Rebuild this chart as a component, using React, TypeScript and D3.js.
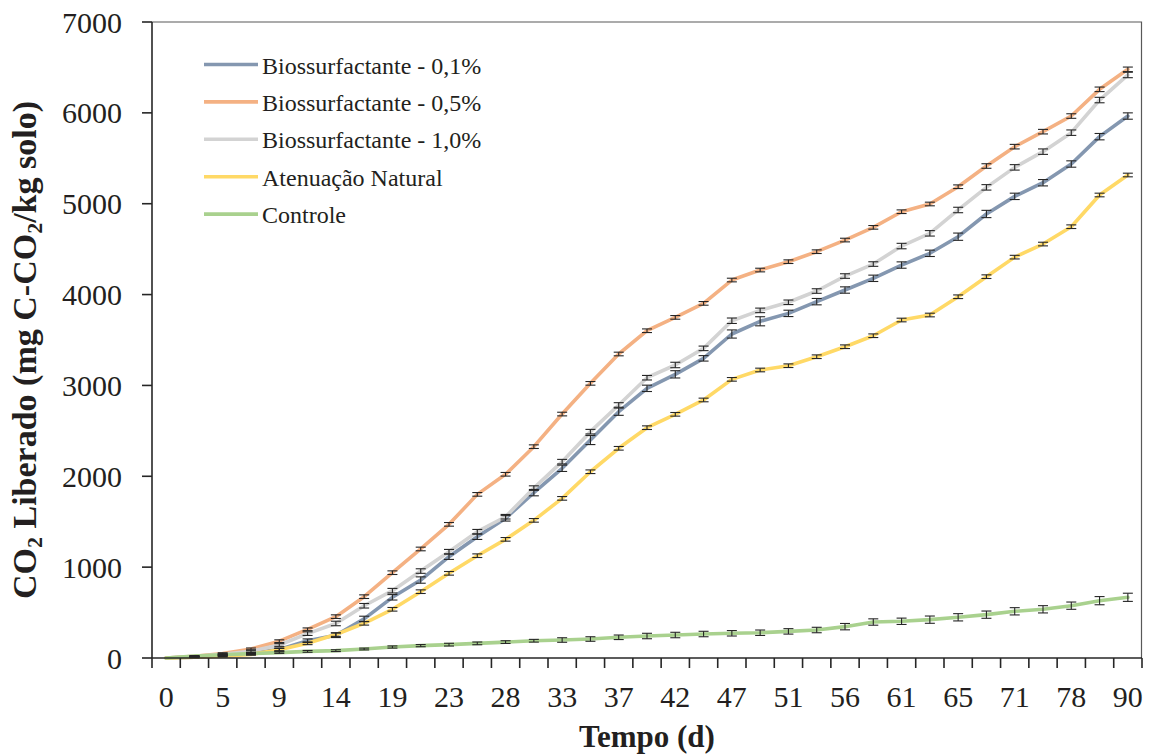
import React from 'react';
import * as d3 from 'd3';

// x axis: one category per sampling, only every other one is labelled
const tickLabels = ['0', '5', '9', '14', '19', '23', '28', '33', '37', '42', '47', '51', '56', '61', '65', '71', '78', '90'];
const nSamples = 35;

const bio01 = [0, 10, 25, 50, 95, 190, 250, 430, 668, 858, 1115, 1335, 1537, 1820, 2088, 2399, 2711, 2968, 3122, 3298, 3566, 3706, 3793, 3922, 4050, 4179, 4325, 4454, 4637, 4887, 5081, 5231, 5437, 5738, 5965];
const bio05 = [0, 20, 50, 100, 185, 316, 455, 675, 939, 1200, 1471, 1801, 2022, 2326, 2685, 3023, 3346, 3602, 3749, 3903, 4160, 4270, 4362, 4472, 4600, 4740, 4912, 4997, 5187, 5415, 5628, 5793, 5965, 6259, 6479];
const bio10 = [0, 15, 40, 75, 143, 268, 380, 575, 741, 957, 1170, 1390, 1555, 1870, 2161, 2491, 2785, 3085, 3225, 3408, 3712, 3826, 3915, 4039, 4204, 4336, 4534, 4674, 4931, 5180, 5400, 5573, 5782, 6141, 6417];
const atenuacao = [0, 8, 20, 40, 90, 162, 258, 382, 536, 730, 932, 1126, 1306, 1515, 1757, 2050, 2308, 2535, 2682, 2840, 3067, 3170, 3217, 3316, 3426, 3547, 3720, 3775, 3976, 4197, 4412, 4556, 4747, 5096, 5316];
const controle = [0, 22, 36, 48, 59, 73, 81, 99, 121, 136, 147, 161, 175, 190, 198, 209, 228, 242, 253, 264, 272, 278, 293, 308, 345, 396, 404, 422, 448, 477, 514, 536, 576, 631, 668];

// error bar half-widths
const bio01Err = [0, 5, 8, 10, 15, 20, 25, 30, 30, 35, 30, 30, 30, 35, 35, 50, 40, 35, 40, 30, 45, 50, 35, 35, 35, 35, 35, 35, 40, 40, 35, 35, 35, 35, 35];
const bio05Err = [0, 5, 8, 10, 15, 15, 20, 20, 20, 20, 20, 20, 20, 20, 20, 20, 20, 20, 20, 20, 20, 20, 20, 20, 20, 20, 20, 20, 20, 25, 25, 25, 25, 25, 25];
const bio10Err = [0, 5, 8, 10, 15, 20, 25, 25, 25, 25, 25, 25, 25, 25, 25, 25, 25, 25, 30, 25, 30, 25, 25, 25, 25, 25, 30, 30, 30, 30, 30, 30, 30, 30, 30];
const atenuacaoErr = [0, 5, 8, 10, 15, 15, 20, 20, 20, 20, 20, 20, 20, 20, 20, 20, 20, 20, 20, 20, 20, 20, 20, 20, 20, 20, 20, 20, 20, 20, 20, 20, 20, 20, 20];
const controleErr = [0, 5, 5, 8, 8, 10, 10, 10, 12, 12, 15, 15, 15, 15, 25, 25, 25, 30, 30, 30, 30, 30, 30, 30, 35, 35, 35, 40, 40, 40, 40, 40, 40, 45, 45];

const yTicks = [0, 1000, 2000, 3000, 4000, 5000, 6000, 7000];

const series = [
  { name: 'Biossurfactante - 0,1%', color: '#8497B0', values: bio01, errors: bio01Err },
  { name: 'Biossurfactante - 0,5%', color: '#F4B183', values: bio05, errors: bio05Err },
  { name: 'Biossurfactante - 1,0%', color: '#D3D3D3', values: bio10, errors: bio10Err },
  { name: 'Atenuação Natural', color: '#FFD966', values: atenuacao, errors: atenuacaoErr },
  { name: 'Controle', color: '#A9D18E', values: controle, errors: controleErr },
];

const width = 1152;
const height = 756;
const margin = { top: 22, right: 10, bottom: 98, left: 152 };
const font = '"Liberation Serif", "Times New Roman", serif';

export default function App() {
  const x = d3.scaleBand<number>()
    .domain(d3.range(nSamples))
    .range([margin.left, width - margin.right]);
  const cx = (i: number) => (x(i) as number) + x.bandwidth() / 2;

  const y = d3.scaleLinear()
    .domain([0, 7000])
    .range([height - margin.bottom, margin.top]);

  const line = d3.line<number>()
    .x((_, i) => cx(i))
    .y(d => y(d));

  const x0 = margin.left;
  const x1 = width - margin.right;
  const y0 = height - margin.bottom;
  const y1 = margin.top;
  const axisColor = '#262626';

  return (
    <svg width={width} height={height} style={{ position: 'absolute', left: 0, top: 0, background: '#fff' }} fontFamily={font}>
      {/* plot frame */}
      <path d={`M${x0},${y1}H${x1 - 0.5}V${y0}`} fill="none" stroke="#595959" strokeWidth={1.2} />

      {/* lines */}
      {series.map(s => (
        <path key={s.name} d={line(s.values) || ''} fill="none" stroke={s.color} strokeWidth={3.6} strokeLinejoin="round" strokeLinecap="round" />
      ))}

      {/* error bars */}
      {series.map(s => (
        <g key={s.name + '-err'} stroke="#262626" strokeWidth={1.1}>
          {s.values.map((v, i) => {
            if (i === 0) return null;
            const px = cx(i);
            const hi = y(v + s.errors[i]);
            const lo = y(v - s.errors[i]);
            return (
              <g key={i}>
                <line x1={px} x2={px} y1={hi} y2={lo} />
                <line x1={px - 5} x2={px + 5} y1={hi} y2={hi} />
                <line x1={px - 5} x2={px + 5} y1={lo} y2={lo} />
              </g>
            );
          })}
        </g>
      ))}

      {/* y axis */}
      <line x1={x0} x2={x0} y1={y1} y2={y0} stroke={axisColor} strokeWidth={1.6} />
      {yTicks.map(t => (
        <g key={t}>
          <line x1={x0 - 10} x2={x0} y1={y(t)} y2={y(t)} stroke={axisColor} strokeWidth={1.6} />
          <text x={122} y={y(t)} dy="0.35em" textAnchor="end" fontSize={30} fill="#231f20">{t}</text>
        </g>
      ))}

      {/* x axis */}
      <line x1={x0} x2={x1} y1={y0} y2={y0} stroke={axisColor} strokeWidth={1.6} />
      {d3.range(nSamples + 1).map(i => {
        const tx = i < nSamples ? (x(i) as number) : x1;
        return <line key={i} x1={tx} x2={tx} y1={y0} y2={y0 + 10} stroke={axisColor} strokeWidth={1.6} />;
      })}
      {tickLabels.map((lab, k) => (
        <text key={k} x={cx(k * 2)} y={707} textAnchor="middle" fontSize={30} fill="#231f20">{lab}</text>
      ))}

      {/* axis titles */}
      <text x={(x0 + x1) / 2} y={747} textAnchor="middle" fontSize={31} fontWeight="bold" fill="#231f20">Tempo (d)</text>
      <text transform="translate(36,350) rotate(-90)" textAnchor="middle" fontSize={34} fontWeight="bold" fill="#231f20">
        CO<tspan fontSize={22} dy={6}>2</tspan><tspan dy={-6}> Liberado (mg C-CO</tspan><tspan fontSize={22} dy={6}>2</tspan><tspan dy={-6}>/kg solo)</tspan>
      </text>

      {/* legend */}
      {series.map((s, k) => {
        const ly = 64.5 + k * 37.4;
        return (
          <g key={s.name + '-leg'}>
            <line x1={204} x2={258} y1={ly} y2={ly} stroke={s.color} strokeWidth={3.6} />
            <text x={262} y={ly + 9} fontSize={24} fill="#231f20">{s.name}</text>
          </g>
        );
      })}
    </svg>
  );
}
